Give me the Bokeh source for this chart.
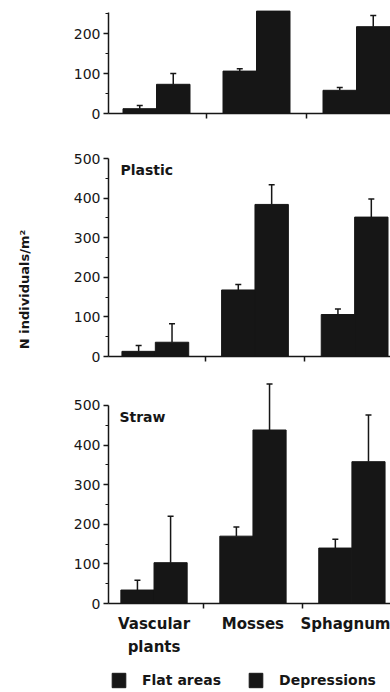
import math
from bokeh.plotting import figure
from bokeh.layouts import column, row
from bokeh.models import (ColumnDataSource, FixedTicker, Whisker, TeeHead, Label,
                          Legend, LegendItem, Range1d)
from bokeh.core.properties import value
from bokeh.embed import file_html
from bokeh.resources import INLINE

# ---------------- data ----------------
categories = ["Vascular\nplants", "Mosses", "Sphagnum"]
group_pos = [0.5, 1.5, 2.5]
series = ["Flat areas", "Depressions"]

# top panel (cropped in the original)
top_flat = [12, 106, 58]
top_flat_se = [8, 6, 7]
top_dep = [73, 256, 217]
top_dep_se = [27, None, 28]

# Plastic
plastic_flat = [13, 168, 106]
plastic_flat_se = [15, 14, 14]
plastic_dep = [36, 384, 352]
plastic_dep_se = [47, 50, 46]

# Straw
straw_flat = [34, 170, 140]
straw_flat_se = [25, 23, 22]
straw_dep = [103, 438, 358]
straw_dep_se = [117, 116, 118]

top_ticks = [0, 100, 200]
top_minor = [50, 150, 250]
big_ticks = [0, 100, 200, 300, 400, 500]
big_minor = [50, 150, 250, 350, 450]

y_label = "N individuals/m\u00b2"

# ---------------- style ----------------
INK = "#161616"
FONT = "DejaVu Sans"
BAR_W = 0.335
OFF = BAR_W / 2
LABEL_W = 40
PANEL_W = 390 - LABEL_W


def style_bars(p, flat, dep):
    xs_f = [g - OFF for g in group_pos]
    xs_d = [g + OFF for g in group_pos]
    src_f = ColumnDataSource(dict(x=xs_f, top=flat))
    src_d = ColumnDataSource(dict(x=xs_d, top=dep))
    rf = p.vbar(x="x", top="top", width=BAR_W, source=src_f,
                fill_color=INK, line_color=INK, line_width=1)
    rd = p.vbar(x="x", top="top", width=BAR_W, source=src_d,
                fill_color=INK, line_color=INK, line_width=1)
    return rf, rd, xs_f, xs_d


def make_panel(flat, flat_se, dep, dep_se, ticks, minor, axis_top, y_end,
               frame_left, x_start, height, b_top, b_bottom, title, bottom=False):
    x_end = x_start + (390 - frame_left) / 100.0
    p = figure(width=PANEL_W, height=height, output_backend="svg", toolbar_location=None,
               x_range=Range1d(x_start, x_end), y_range=Range1d(0, y_end),
               min_border_left=frame_left - LABEL_W, min_border_right=0,
               min_border_top=b_top, min_border_bottom=b_bottom)
    p.outline_line_color = None
    p.xgrid.visible = False
    p.ygrid.visible = False
    p.background_fill_color = "white"
    p.border_fill_color = "white"

    rf, rd, xf, xd = style_bars(p, flat, dep)

    for xs, vals, ses in ((xf, flat, flat_se), (xd, dep, dep_se)):
        keep = [i for i in range(len(vals)) if ses[i] is not None]
        es = ColumnDataSource(dict(x=[xs[i] for i in keep],
                                   lower=[vals[i] for i in keep],
                                   upper=[vals[i] + ses[i] for i in keep]))
        w = Whisker(source=es, base="x", lower="lower", upper="upper",
                    dimension="height", line_color=INK, line_width=1.5,
                    upper_head=TeeHead(size=6, line_color=INK, line_width=1.5),
                    lower_head=None)
        p.add_layout(w)

    ya = p.yaxis[0]
    ya.ticker = FixedTicker(ticks=ticks, minor_ticks=minor)
    ya.bounds = (0, axis_top)
    ya.axis_line_width = 1.5
    ya.axis_line_color = INK
    ya.major_tick_line_color = INK
    ya.major_tick_line_width = 1.5
    ya.major_tick_out = 5
    ya.major_tick_in = 0
    ya.minor_tick_line_color = INK
    ya.minor_tick_out = 3
    ya.minor_tick_in = 0
    ya.major_label_standoff = 3
    ya.major_label_text_font = FONT
    ya.major_label_text_font_size = "14px"
    ya.major_label_text_color = INK

    xa = p.xaxis[0]
    xa.axis_line_width = 1.5
    xa.axis_line_color = INK
    xa.major_tick_line_color = None
    xa.major_tick_out = 5
    xa.major_tick_in = 0
    xa.minor_tick_line_color = INK
    xa.minor_tick_line_width = 1.5
    xa.minor_tick_out = 5
    xa.minor_tick_in = 0
    if bottom:
        xa.ticker = FixedTicker(ticks=group_pos, minor_ticks=[1, 2])
        xa.major_label_overrides = {g: c for g, c in zip(group_pos, categories)}
        xa.major_label_text_font = FONT
        xa.major_label_text_font_style = "bold"
        xa.major_label_text_font_size = "15px"
        xa.major_label_text_color = INK
        xa.major_label_text_line_height = 1.33
        xa.major_label_standoff = 6
    else:
        xa.ticker = FixedTicker(ticks=[], minor_ticks=[1, 2])
        xa.major_label_text_font_size = "0px"
        xa.major_label_standoff = 0

    if title:
        p.add_layout(Label(x=0.15, y=470, text=title, text_font=FONT,
                           text_font_style="bold", text_font_size="14px",
                           text_color=INK, text_baseline="middle", text_align="left"))
    return p


p1 = make_panel(top_flat, top_flat_se, top_dep, top_dep_se, top_ticks, top_minor,
                252, 282.5, 108, 0.02, 130, 0, 17, "")
p2 = make_panel(plastic_flat, plastic_flat_se, plastic_dep, plastic_dep_se,
                big_ticks, big_minor, 500, 500, 107, 0.03, 242, 28, 16, "Plastic")
p3 = make_panel(straw_flat, straw_flat_se, straw_dep, straw_dep_se,
                big_ticks, big_minor, 500, 563, 105, 0.04, 288, 8, 57, "Straw",
                bottom=True)

# legend strip below the bottom panel; its swatches use the straw bar renderers
# (hidden in this strip, they only supply the legend swatch style)
LEG_H = 692 - 130 - 242 - 288
p4 = figure(width=PANEL_W, height=LEG_H, output_backend="svg", toolbar_location=None,
            x_range=Range1d(10, 11), y_range=Range1d(0, 1), min_border=0)
p4.axis.visible = False
p4.grid.visible = False
p4.outline_line_color = None
lf, ld, _, _ = style_bars(p4, straw_flat, straw_dep)
lf.visible = False
ld.visible = False
legend = Legend(items=[LegendItem(label=series[0], renderers=[lf]),
                       LegendItem(label=series[1], renderers=[ld])],
                location=(2, 3), orientation="horizontal",
                glyph_width=17, glyph_height=18, label_height=18,
                label_standoff=15, spacing=26, padding=5, margin=0,
                border_line_color=None, background_fill_alpha=0,
                label_text_font=FONT, label_text_font_style="bold",
                label_text_font_size="14px", label_text_color=INK)
p4.add_layout(legend)

# narrow figure on the left that carries the shared y-axis title
pl = figure(width=LABEL_W, height=692, output_backend="svg", toolbar_location=None,
            x_range=Range1d(0, LABEL_W), y_range=Range1d(0, 692),
            min_border=0)
pl.axis.visible = False
pl.grid.visible = False
pl.outline_line_color = None
pl.text(x=[24], y=[692 - 289], text=[y_label], angle=math.pi / 2,
        text_font=value(FONT), text_font_style="bold", text_font_size="13px",
        text_color=INK, text_align="center", text_baseline="middle")

layout = row(pl, column(p1, p2, p3, p4, spacing=0), spacing=0)
open("out.html", "w").write(file_html(layout, INLINE))
